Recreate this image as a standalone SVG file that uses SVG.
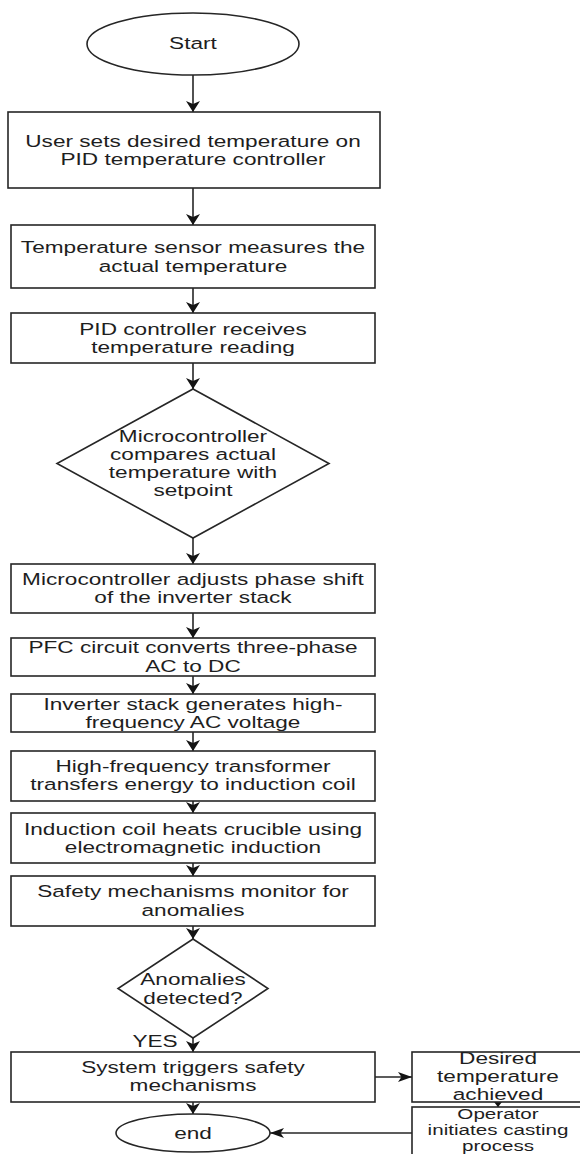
<svg xmlns="http://www.w3.org/2000/svg" width="580" height="1154" viewBox="0 0 580 1154">
  <style>
    .shape { fill: #ffffff; stroke: #262626; stroke-width: 1.6; }
    .conn { fill: none; stroke: #262626; stroke-width: 1.6; }
    .t { font-family: "Liberation Sans", Arial, sans-serif; font-size: 17px; fill: #1e1e1e; text-anchor: middle; }
    .ts { font-size: 15.5px; }
  </style>
  <defs>
    <marker id="arrowD" markerUnits="userSpaceOnUse" markerWidth="11" markerHeight="14" refX="11" refY="7" orient="auto">
      <path d="M0,0 L11,7 L0,14 L3,7 z" fill="#141414"/>
    </marker>
    <marker id="arrowH" markerUnits="userSpaceOnUse" markerWidth="14" markerHeight="10" refX="14" refY="5" orient="auto">
      <path d="M0,0 L14,5 L0,10 L3.5,5 z" fill="#141414"/>
    </marker>
    <marker id="arrowS" markerUnits="userSpaceOnUse" markerWidth="5" markerHeight="8" refX="5" refY="4" orient="auto">
      <path d="M0,0 L5,4 L0,8 z" fill="#141414"/>
    </marker>
  </defs>
  <rect width="580" height="1154" fill="#ffffff"/>

  <g id="connectors">
    <line class="conn" x1="193" y1="75" x2="193" y2="112" marker-end="url(#arrowD)"/>
    <line class="conn" x1="193" y1="188" x2="193" y2="225" marker-end="url(#arrowD)"/>
    <line class="conn" x1="193" y1="288" x2="193" y2="313" marker-end="url(#arrowD)"/>
    <line class="conn" x1="193" y1="363" x2="193" y2="389" marker-end="url(#arrowD)"/>
    <line class="conn" x1="193" y1="538" x2="193" y2="564" marker-end="url(#arrowD)"/>
    <line class="conn" x1="193" y1="613" x2="193" y2="638" marker-end="url(#arrowD)"/>
    <line class="conn" x1="193" y1="676" x2="193" y2="694" marker-end="url(#arrowD)"/>
    <line class="conn" x1="193" y1="732" x2="193" y2="751" marker-end="url(#arrowD)"/>
    <line class="conn" x1="193" y1="801" x2="193" y2="813" marker-end="url(#arrowD)"/>
    <line class="conn" x1="193" y1="863" x2="193" y2="876" marker-end="url(#arrowD)"/>
    <line class="conn" x1="193" y1="926" x2="193" y2="939" marker-end="url(#arrowD)"/>
    <line class="conn" x1="193" y1="1038" x2="193" y2="1052" marker-end="url(#arrowD)"/>
    <line class="conn" x1="193" y1="1102" x2="193" y2="1114" marker-end="url(#arrowD)"/>
    <line class="conn" x1="375" y1="1077" x2="412" y2="1077" marker-end="url(#arrowH)"/>
    <line class="conn" x1="498" y1="1102" x2="498" y2="1107" marker-end="url(#arrowS)"/>
    <line class="conn" x1="412" y1="1133" x2="270" y2="1133" marker-end="url(#arrowH)"/>
    <text class="t" transform="translate(155 0) scale(1.33 1)" x="0" y="1047">YES</text>
  </g>

  <g id="start">
    <ellipse class="shape" cx="193" cy="44" rx="106" ry="31"/>
    <text class="t" transform="translate(193 0) scale(1.33 1)" x="0" y="49">Start</text>
  </g>

  <g id="set-temp">
    <rect class="shape" x="8" y="112" width="372" height="76"/>
    <text class="t" transform="translate(193 0) scale(1.33 1)"><tspan x="0" y="147">User sets desired temperature on</tspan><tspan x="0" y="165">PID temperature controller</tspan></text>
  </g>

  <g id="sensor">
    <rect class="shape" x="11" y="225" width="364" height="63"/>
    <text class="t" transform="translate(193 0) scale(1.33 1)"><tspan x="0" y="253">Temperature sensor measures the</tspan><tspan x="0" y="272">actual temperature</tspan></text>
  </g>

  <g id="pid-receives">
    <rect class="shape" x="11" y="313" width="364" height="50"/>
    <text class="t" transform="translate(193 0) scale(1.33 1)"><tspan x="0" y="335">PID controller receives</tspan><tspan x="0" y="353">temperature reading</tspan></text>
  </g>

  <g id="compare">
    <polygon class="shape" points="193,389 329,463.5 193,538 57,463.5"/>
    <text class="t" transform="translate(193 0) scale(1.33 1)"><tspan x="0" y="442">Microcontroller</tspan><tspan x="0" y="460">compares actual</tspan><tspan x="0" y="478">temperature with</tspan><tspan x="0" y="496">setpoint</tspan></text>
  </g>

  <g id="adjust-phase">
    <rect class="shape" x="11" y="564" width="364" height="49"/>
    <text class="t" transform="translate(193 0) scale(1.33 1)"><tspan x="0" y="585">Microcontroller adjusts phase shift</tspan><tspan x="0" y="603">of the inverter stack</tspan></text>
  </g>

  <g id="pfc">
    <rect class="shape" x="11" y="638" width="364" height="38"/>
    <text class="t" transform="translate(193 0) scale(1.33 1)"><tspan x="0" y="653">PFC circuit converts three-phase</tspan><tspan x="0" y="672">AC to DC</tspan></text>
  </g>

  <g id="inverter">
    <rect class="shape" x="11" y="694" width="364" height="38"/>
    <text class="t" transform="translate(193 0) scale(1.33 1)"><tspan x="0" y="710">Inverter stack generates high-</tspan><tspan x="0" y="728">frequency AC voltage</tspan></text>
  </g>

  <g id="transformer">
    <rect class="shape" x="11" y="751" width="364" height="50"/>
    <text class="t" transform="translate(193 0) scale(1.33 1)"><tspan x="0" y="772">High-frequency transformer</tspan><tspan x="0" y="790">transfers energy to induction coil</tspan></text>
  </g>

  <g id="coil">
    <rect class="shape" x="11" y="813" width="364" height="50"/>
    <text class="t" transform="translate(193 0) scale(1.33 1)"><tspan x="0" y="835">Induction coil heats crucible using</tspan><tspan x="0" y="853">electromagnetic induction</tspan></text>
  </g>

  <g id="safety-monitor">
    <rect class="shape" x="11" y="876" width="364" height="50"/>
    <text class="t" transform="translate(193 0) scale(1.33 1)"><tspan x="0" y="897">Safety mechanisms monitor for</tspan><tspan x="0" y="916">anomalies</tspan></text>
  </g>

  <g id="anomalies">
    <polygon class="shape" points="193,939 268,988.5 193,1038 118,988.5"/>
    <text class="t" transform="translate(193 0) scale(1.33 1)"><tspan x="0" y="985">Anomalies</tspan><tspan x="0" y="1004">detected?</tspan></text>
  </g>

  <g id="trigger-safety">
    <rect class="shape" x="11" y="1052" width="364" height="50"/>
    <text class="t" transform="translate(193 0) scale(1.33 1)"><tspan x="0" y="1073">System triggers safety</tspan><tspan x="0" y="1091">mechanisms</tspan></text>
  </g>

  <g id="desired-temp">
    <rect class="shape" x="412" y="1052" width="172" height="50"/>
    <text class="t" transform="translate(498 0) scale(1.33 1)"><tspan x="0" y="1064">Desired</tspan><tspan x="0" y="1082">temperature</tspan><tspan x="0" y="1100">achieved</tspan></text>
  </g>

  <g id="operator">
    <rect class="shape" x="412" y="1107" width="172" height="60"/>
    <text class="t ts" transform="translate(498 0) scale(1.33 1)"><tspan x="0" y="1119">Operator</tspan><tspan x="0" y="1135">initiates casting</tspan><tspan x="0" y="1151">process</tspan></text>
  </g>

  <g id="end">
    <ellipse class="shape" cx="193" cy="1133" rx="77" ry="19"/>
    <text class="t" transform="translate(193 0) scale(1.33 1)" x="0" y="1139">end</text>
  </g>
</svg>
